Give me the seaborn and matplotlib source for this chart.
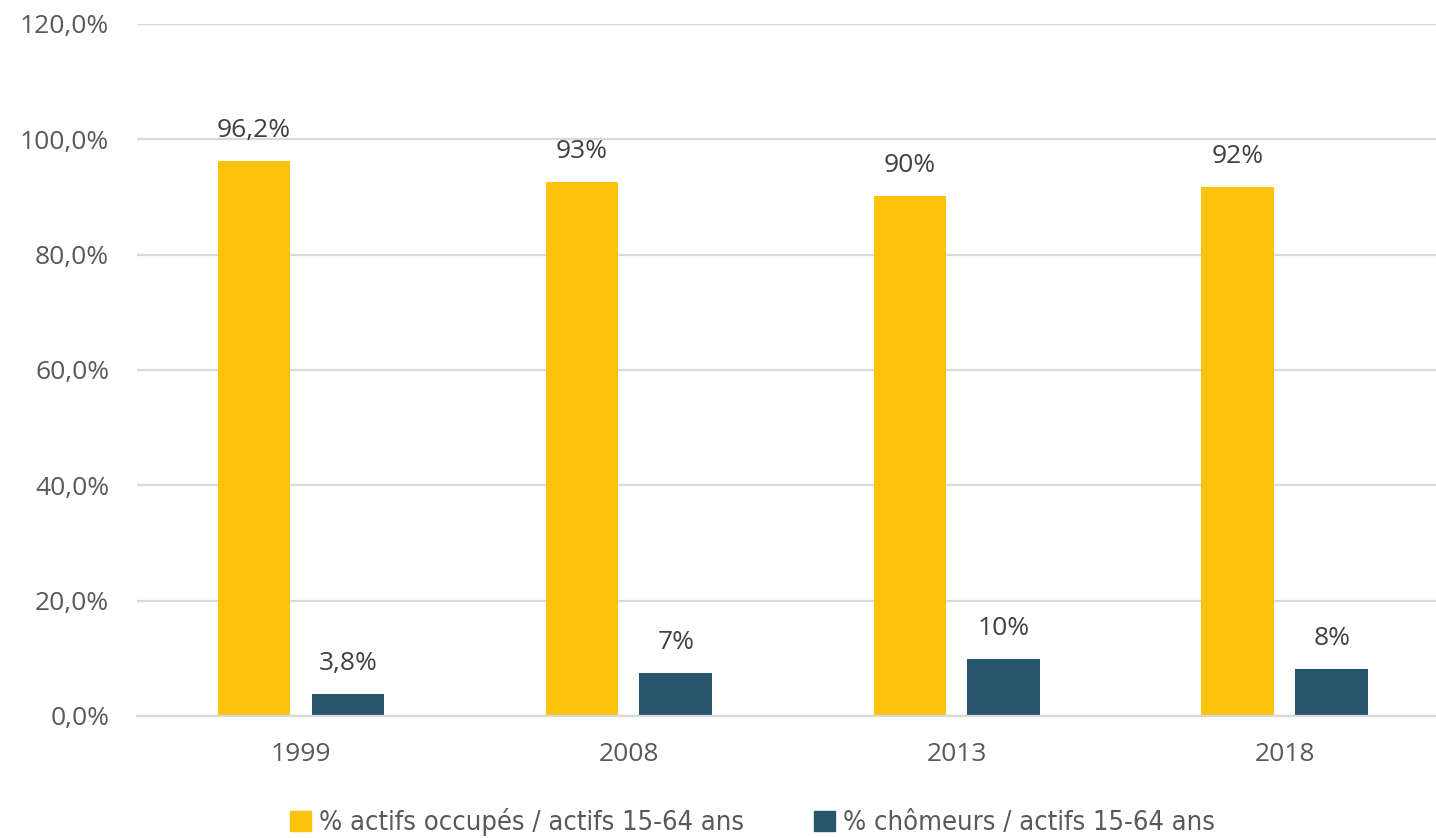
import matplotlib
matplotlib.use("Agg")
import matplotlib.pyplot as plt
import matplotlib.patches as mpatches
import seaborn as sns
import pandas as pd

# Data
years = ["1999", "2008", "2013", "2018"]
series_names = ["% actifs occupés / actifs 15-64 ans", "% chômeurs / actifs 15-64 ans"]
occupes = [96.2, 92.6, 90.2, 91.8]
chomeurs = [3.8, 7.4, 9.8, 8.2]
label_decimals = [1, 0, 0, 0]
y_ticks = [0, 20, 40, 60, 80, 100, 120]

colors = ["#FDC20B", "#27556B"]

df = pd.DataFrame({
    "annee": years * 2,
    "serie": [series_names[0]] * len(years) + [series_names[1]] * len(years),
    "valeur": occupes + chomeurs,
})

sns.set_theme(style="white")
plt.rcParams["font.family"] = ["Open Sans", "DejaVu Sans"]

fig = plt.figure(figsize=(14.36, 8.38), dpi=100)
ax = fig.add_axes([0.0954, 0.1456, 0.9136, 0.8258])

sns.barplot(data=df, x="annee", y="valeur", hue="serie", hue_order=series_names,
            palette=colors, width=0.573, gap=0.224, saturation=1, linewidth=0,
            legend=False, ax=ax, errorbar=None)

ax.set_ylim(0, 120)
ax.set_yticks(y_ticks)
ax.set_yticklabels([f"{t:.1f}%".replace(".", ",") for t in y_ticks])
ax.yaxis.grid(True, color="#D9D9D9", linewidth=1.6)
ax.set_axisbelow(True)
for side in ["left", "right", "top"]:
    ax.spines[side].set_visible(False)
ax.spines["bottom"].set_color("#D9D9D9")
ax.spines["bottom"].set_linewidth(1.6)
ax.tick_params(axis="both", length=0, labelsize=19, labelcolor="#595959")
ax.tick_params(axis="y", pad=20)
ax.tick_params(axis="x", pad=19)
ax.set_xlabel("")
ax.set_ylabel("")

# Value labels above each bar
for container, values in zip(ax.containers, [occupes, chomeurs]):
    labels = []
    for v, d in zip(values, label_decimals):
        labels.append(f"{v:.{d}f}%".replace(".", ","))
    ax.bar_label(container, labels=labels, padding=13, fontsize=19, color="#404040")

handles = [mpatches.Patch(color=c, label=n) for c, n in zip(colors, series_names)]
fig.legend(handles=handles, loc="center", bbox_to_anchor=(0.524, 0.019), ncol=2,
           frameon=False, handlelength=0.75, handleheight=0.75, handletextpad=0.3,
           columnspacing=2.6,
           prop={"family": "DejaVu Sans", "stretch": "condensed", "size": 19.5},
           labelcolor="#595959")

fig.savefig("out.png", dpi=100)
